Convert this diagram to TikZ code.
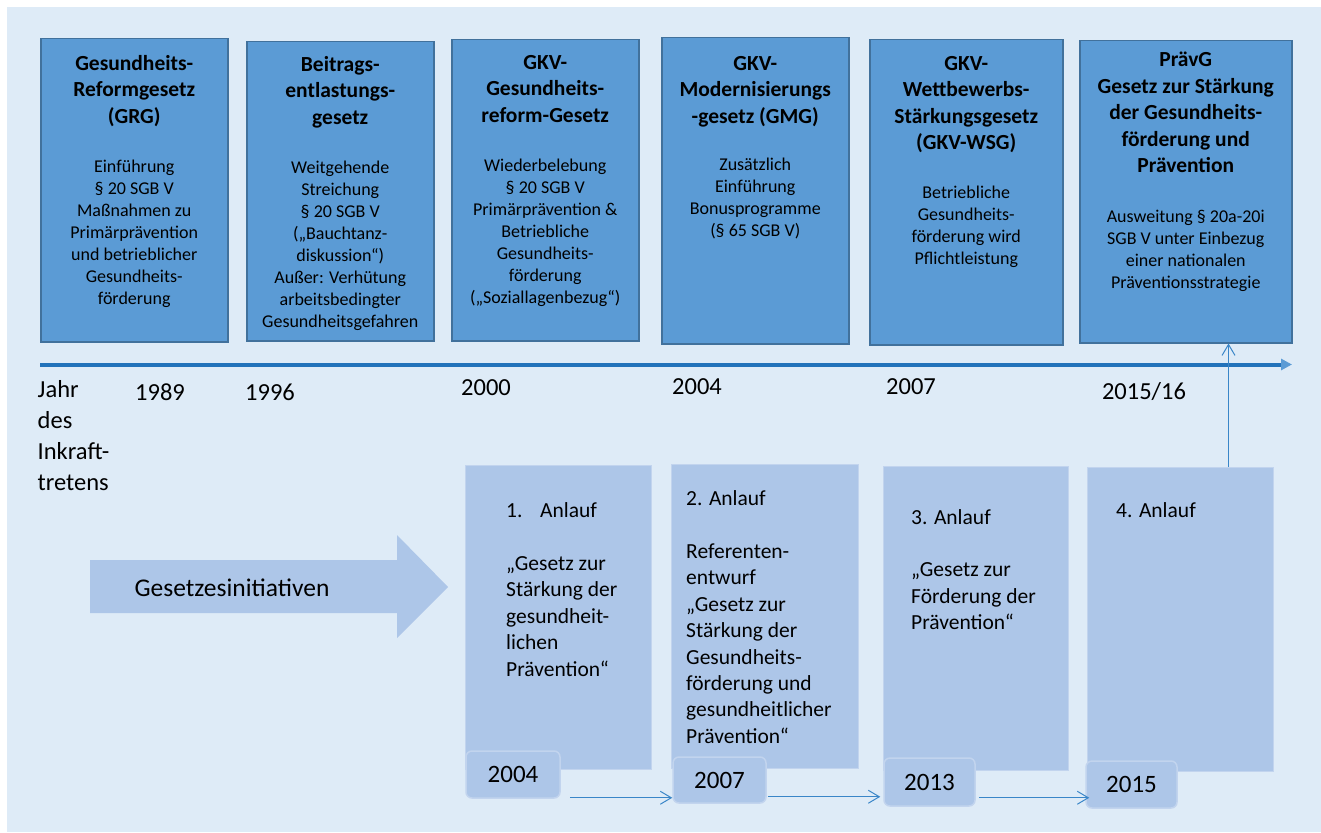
\documentclass[tikz,border=0pt]{standalone}
\usepackage{fontspec}
\setmainfont{Carlito}
\usetikzlibrary{calc,positioning,arrows.meta}

\definecolor{paper}{HTML}{DEEBF7}
\definecolor{lawfill}{HTML}{5B9BD5}
\definecolor{lawline}{HTML}{41719C}
\definecolor{trialfill}{HTML}{ADC6E8}
\definecolor{trialline}{HTML}{C2D4EE}
\definecolor{axisblue}{HTML}{2272BA}
\definecolor{flowblue}{HTML}{3A86C8}

\tikzset{
  law/.style={draw=lawline, fill=lawfill, line width=1.5pt, anchor=north west,
    minimum width=187pt, minimum height=303pt},
  lawtitle/.style={align=center, inner sep=0pt, font=\bfseries\fontsize{21.5}{26.5}\selectfont,
    execute at begin node=\strut, execute at end node=\strut},
  lawtext/.style={align=center, inner sep=0pt, font=\fontsize{18}{22}\selectfont,
    execute at begin node=\strut, execute at end node=\strut},
  trial/.style={draw=trialline, fill=trialfill, line width=1pt, anchor=north west,
    minimum width=186pt, minimum height=304pt},
  trialtext/.style={align=left, inner sep=0pt, font=\fontsize{21.5}{26.4}\selectfont,
    execute at begin node=\strut, execute at end node=\strut},
  yearbox/.style={draw=trialline, fill=trialfill, line width=1.5pt, rounded corners=6pt,
    minimum width=93pt, minimum height=47pt, font=\fontsize{25}{30}\selectfont},
  year/.style={inner sep=0pt, font=\fontsize{24.5}{31}\selectfont},
  flow/.style={draw=flowblue, line width=1pt, -{Straight Barb[length=11pt,width=13pt]}},
}

\begin{document}
\begin{tikzpicture}[x=1pt, y=-1pt]
  \useasboundingbox (0,0) rectangle (1321,832);
  \fill[paper] (7,7) rectangle (1321,832);

  % time axis
  \coordinate (t0) at (40,364.5);
  \coordinate (t1) at (1292,364.5);
  \draw[axisblue, line width=4pt, -{Triangle[length=11pt,width=11pt,color=lawfill]}] (t0) -- (t1);

  \node[year, align=left, anchor=north west, execute at begin node=\strut]
    (inforce) at (37.5,380) {Jahr\\des\\Inkraft-\\tretens};
  \node[year] (y1989) at (160,392) {1989};
  \node[year] (y1996) at (270,392) {1996};
  \node[year] (y2000) at (486,388) {2000};
  \node[year] (y2004) at (697,387) {2004};
  \node[year] (y2007) at (911,387) {2007};
  \node[year] (y2015) at (1144,392) {2015/16};

  % laws in force
  \node[law] (grg) at (40,38) {};
  \node[lawtitle, below=17pt of grg.north] (grgtitle) {Gesundheits-\\Reformgesetz\\(GRG)};
  \node[lawtext, below=28pt of grgtitle] (grgtext) {Einführung\\§ 20 SGB V\\Maßnahmen zu\\Primärprävention\\und betrieblicher\\Gesundheits-\\förderung};

  \node[law, minimum height=299pt] (beg) at (246,41) {};
  \node[lawtitle, below=15pt of beg.north] (begtitle) {Beitrags-\\entlastungs-\\gesetz};
  \node[lawtext, below=28pt of begtitle] (begtext) {Weitgehende\\Streichung\\§ 20 SGB V\\(„Bauchtanz-\\diskussion“)\\Außer: Verhütung\\arbeitsbedingter\\Gesundheitsgefahren};

  \node[law, minimum height=301pt] (gkv) at (451,39) {};
  \node[lawtitle, below=16pt of gkv.north] (gkvtitle) {GKV-\\Gesundheits-\\reform-Gesetz};
  \node[lawtext, below=28pt of gkvtitle] (gkvtext) {Wiederbelebung\\§ 20 SGB V\\Primärprävention \&\\Betriebliche\\Gesundheits-\\förderung\\(„Soziallagenbezug“)};

  \node[law, minimum height=306pt] (gmg) at (661,37) {};
  \node[lawtitle, below=19pt of gmg.north] (gmgtitle) {GKV-\\Modernisierungs\\-gesetz (GMG)};
  \node[lawtext, below=26.5pt of gmgtitle] (gmgtext) {Zusätzlich\\Einführung\\Bonusprogramme\\(§ 65 SGB V)};

  \node[law, minimum width=193pt, minimum height=305pt] (wsg) at (869,39) {};
  \node[lawtitle, below=17pt of wsg.north] (wsgtitle) {GKV-\\Wettbewerbs-\\Stärkungsgesetz\\(GKV-WSG)};
  \node[lawtext, below=27.5pt of wsgtitle] (wsgtext) {Betriebliche\\Gesundheits-\\förderung wird\\Pflichtleistung};

  \node[law, minimum width=212pt, minimum height=302pt] (praevg) at (1079,40) {};
  \node[lawtitle, below=12pt of praevg.north] (praevgtitle) {PrävG\\Gesetz zur Stärkung\\der Gesundheits-\\förderung und\\Prävention};
  \node[lawtext, below=29pt of praevgtitle] (praevgtext) {Ausweitung § 20a-20i\\SGB V unter Einbezug\\einer nationalen\\Präventionsstrategie};

  % attempts
  \node[trial] (a1) at (465,465) {};
  \node[trial, minimum width=187pt] (a2) at (671,464) {};
  \node[trial, minimum width=185pt] (a3) at (883,466) {};
  \node[trial] (a4) at (1087,467) {};

  \node[trialtext, below right=37.5pt and 41pt of a1.north west] (a1text)
    {\makebox[34pt][l]{1.}Anlauf\\[26.4pt]„Gesetz zur\\Stärkung der\\gesundheit-\\lichen\\Prävention“};
  \node[trialtext, below right=26.5pt and 15pt of a2.north west] (a2text)
    {2. Anlauf\\[26.4pt]Referenten-\\entwurf\\„Gesetz zur\\Stärkung der\\Gesundheits-\\förderung und\\gesundheitlicher\\Prävention“};
  \node[trialtext, below right=43pt and 28pt of a3.north west] (a3text)
    {3. Anlauf\\[26.4pt]„Gesetz zur\\Förderung der\\Prävention“};
  \node[trialtext, below right=32pt and 29pt of a4.north west] (a4text) {4. Anlauf};

  \fill[trialfill] (90,560) -- (397,560) -- (397,535) -- (448,587) -- (397,638) -- (397,613) -- (90,613) -- cycle;
  \node[font=\fontsize{25.5}{30}\selectfont, inner sep=0pt] (initiatives) at (232,588) {Gesetzesinitiativen};

  \node[yearbox, minimum width=94pt] (j1) at (513,774.5) {2004};
  \node[yearbox, minimum height=46pt] (j2) at (719.5,780) {2007};
  \node[yearbox, minimum width=91pt, minimum height=48pt] (j3) at (929.5,782) {2013};
  \node[yearbox, minimum width=91pt] (j4) at (1131.5,784.5) {2015};

  \draw[flow] ([shift={(9pt,1pt)}]j1.south east) -- ([yshift=6pt]j2.south west);
  \draw[flow] ([shift={(1pt,7pt)}]j2.south east) -- ([shift={(-3pt,10pt)}]j3.south west);
  \draw[flow] ([shift={(3pt,9pt)}]j3.south east) -- ([shift={(4pt,11pt)}]j4.south west);
  \draw[flow] ([xshift=48pt]a4.north) -- ([xshift=48pt]a4.north |- praevg.south);
\end{tikzpicture}
\end{document}
